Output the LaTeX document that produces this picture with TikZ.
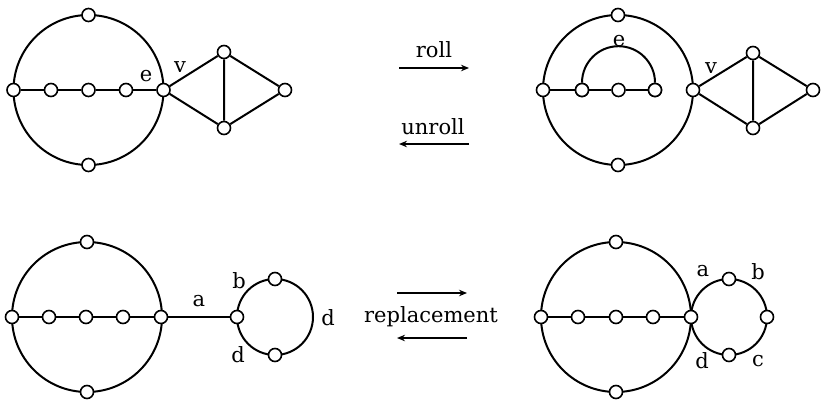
\documentclass[tikz,border=0pt]{standalone}
\usepackage{fontspec}
\setmainfont{DejaVu Serif}
\usetikzlibrary{arrows.meta}
\begin{document}
\begin{tikzpicture}[x=1pt,y=-1pt,
  vtx/.style={circle,draw,fill=white,line width=1.6pt,minimum size=13pt,inner sep=0pt},
  edge/.style={line width=2pt},
  lbl/.style={font=\fontsize{21}{25}\selectfont,inner sep=0pt},
  op/.style={line width=1.5pt,-{Stealth[length=8pt,width=6.5pt]}}]
\useasboundingbox (0,0) rectangle (822,400);
% ---------- top left ----------
\draw[edge] (88.5,90) circle (75pt);
\node[vtx] (a1) at (13.5,90) {};
\node[vtx] (a2) at (51,90) {};
\node[vtx] (a3) at (88.5,90) {};
\node[vtx] (a4) at (126,90) {};
\node[vtx] (a5) at (163.5,90) {};
\node[vtx] (at) at (88.5,15) {};
\node[vtx] (ab) at (88.5,165) {};
\node[vtx] (d1) at (224,52) {};
\node[vtx] (d2) at (224,128) {};
\node[vtx] (d3) at (285,90) {};
\draw[edge] (a1)--(a2) (a2)--(a3) (a3)--(a4) (a4)--(a5);
\draw[edge] (a5)--(d1) (a5)--(d2) (d1)--(d2) (d1)--(d3) (d2)--(d3);
\node[lbl] (le1) at (146,76) {e};
\node[lbl] (lv1) at (180,67) {v};
% ---------- top right ----------
\draw[edge] (618,90) circle (75pt);
\node[vtx] (b1) at (543,90) {};
\node[vtx] (b2) at (582,90) {};
\node[vtx] (b3) at (618.5,90) {};
\node[vtx] (b4) at (655,90) {};
\node[vtx] (b5) at (693,90) {};
\node[vtx] (bt) at (618,15) {};
\node[vtx] (bb) at (618,165) {};
\node[vtx] (e1) at (753,53) {};
\node[vtx] (e2) at (753,128) {};
\node[vtx] (e3) at (813,90) {};
\draw[edge] (b1)--(b2) (b2)--(b3) (b3)--(b4);
\draw[edge] (b2.north) arc (180:0:36.5pt);
\draw[edge] (b5)--(e1) (b5)--(e2) (e1)--(e2) (e1)--(e3) (e2)--(e3);
\node[vtx] at (582,90) {};
\node[vtx] at (655,90) {};
\node[lbl] (le2) at (619,41) {e};
\node[lbl] (lv2) at (711,68) {v};
% ---------- bottom left ----------
\draw[edge] (87,317) circle (75pt);
\node[vtx] (c1) at (12,317) {};
\node[vtx] (c2) at (49,317) {};
\node[vtx] (c3) at (86,317) {};
\node[vtx] (c4) at (123,317) {};
\node[vtx] (c5) at (161,317) {};
\node[vtx] (ct) at (87,242) {};
\node[vtx] (cb) at (87,392) {};
\draw[edge] (275,317) circle (38pt);
\node[vtx] (s1) at (237,317) {};
\node[vtx] (s2) at (275,279) {};
\node[vtx] (s3) at (275,355) {};
\draw[edge] (c1)--(c2) (c2)--(c3) (c3)--(c4) (c4)--(c5) (c5)--(s1);
\node[lbl] (la1) at (199,301) {a};
\node[lbl] (lb1) at (239,281) {b};
\node[lbl] (ld1) at (328,318) {d};
\node[lbl] (ld2) at (238,355) {d};
% ---------- bottom right ----------
\draw[edge] (616,317) circle (75pt);
\draw[edge] (729,317) circle (38pt);
\node[vtx] (f1) at (541,317) {};
\node[vtx] (f2) at (578,317) {};
\node[vtx] (f3) at (616,317) {};
\node[vtx] (f4) at (653,317) {};
\node[vtx] (f5) at (691,317) {};
\node[vtx] (ft) at (616,242) {};
\node[vtx] (fb) at (616,392) {};
\node[vtx] (g1) at (729,279) {};
\node[vtx] (g2) at (767,317) {};
\node[vtx] (g3) at (729,355) {};
\draw[edge] (f1)--(f2) (f2)--(f3) (f3)--(f4) (f4)--(f5);
\node[lbl] (la2) at (703,271) {a};
\node[lbl] (lb2) at (758,272) {b};
\node[lbl] (lc2) at (758,361) {c};
\node[lbl] (ld3) at (702,361) {d};
% ---------- operations ----------
\coordinate (r1) at (399,68);
\coordinate (r2) at (469,68);
\coordinate (u1) at (469,144);
\coordinate (u2) at (399,144);
\coordinate (p1) at (397,293);
\coordinate (p2) at (467,293);
\coordinate (q1) at (467,338);
\coordinate (q2) at (397,338);
\draw[op] (r1)--(r2);
\draw[op] (u1)--(u2);
\draw[op] (p1)--(p2);
\draw[op] (q1)--(q2);
\node[lbl,anchor=base] (troll) at (434,57) {roll};
\node[lbl,anchor=base] (tunroll) at (433,134) {unroll};
\node[lbl,anchor=base] (trep) at (431,322) {replacement};
\end{tikzpicture}
\end{document}
